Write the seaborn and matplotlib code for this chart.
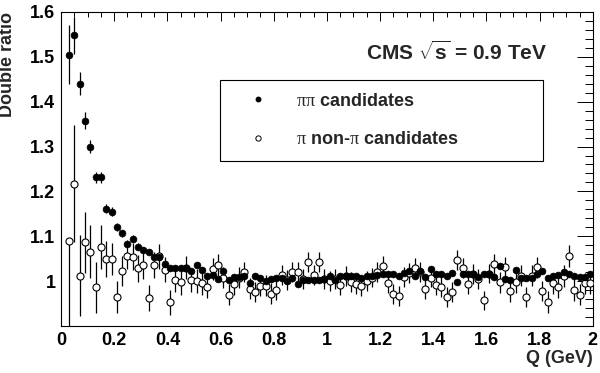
import numpy as np
import pandas as pd
import seaborn as sns
import matplotlib
matplotlib.use("Agg")
import matplotlib.pyplot as plt
from matplotlib.lines import Line2D
from matplotlib.ticker import MultipleLocator

# bin centres in Q (GeV)
q_gev = [
    0.03, 0.05, 0.07, 0.09, 0.11, 0.13, 0.15, 0.17, 0.19, 0.21,
    0.23, 0.25, 0.27, 0.29, 0.31, 0.33, 0.35, 0.37, 0.39, 0.41,
    0.43, 0.45, 0.47, 0.49, 0.51, 0.53, 0.55, 0.57, 0.59, 0.61,
    0.63, 0.65, 0.67, 0.69, 0.71, 0.73, 0.75, 0.77, 0.79, 0.81,
    0.83, 0.85, 0.87, 0.89, 0.91, 0.93, 0.95, 0.97, 0.99, 1.01,
    1.03, 1.05, 1.07, 1.09, 1.11, 1.13, 1.15, 1.17, 1.19, 1.21,
    1.23, 1.25, 1.27, 1.29, 1.31, 1.33, 1.35, 1.37, 1.39, 1.41,
    1.43, 1.45, 1.47, 1.49, 1.51, 1.53, 1.55, 1.57, 1.59, 1.61,
    1.63, 1.65, 1.67, 1.69, 1.71, 1.73, 1.75, 1.77, 1.79, 1.81,
    1.83, 1.85, 1.87, 1.89, 1.91, 1.93, 1.95, 1.97, 1.99,
]

# pi pi candidates (filled)
pipi_ratio = [
    1.505, 1.548, 1.440, 1.358, 1.300, 1.231, 1.231, 1.161, 1.155, 1.121,
    1.107, 1.083, 1.095, 1.077, 1.070, 1.065, 1.054, 1.054, 1.038, 1.029,
    1.029, 1.030, 1.030, 1.022, 1.037, 1.025, 1.012, 1.013, 1.004, 1.022,
    1.003, 1.010, 1.010, 1.012, 0.995, 1.011, 1.008, 1.001, 1.005, 1.006,
    1.006, 1.001, 1.006, 0.993, 1.002, 1.002, 1.002, 1.002, 1.005, 1.012,
    1.002, 1.011, 1.012, 1.012, 1.011, 1.008, 1.011, 1.012, 1.014, 1.016,
    1.016, 1.016, 1.012, 1.019, 1.023, 1.011, 1.023, 1.010, 1.027, 1.016,
    1.016, 1.011, 1.018, 0.999, 1.016, 1.016, 1.016, 1.010, 1.016, 1.017,
    1.010, 1.034, 1.005, 1.003, 1.025, 1.008, 1.008, 1.008, 1.016, 1.023,
    1.008, 1.012, 1.013, 1.020, 1.017, 1.012, 1.010, 1.010, 1.017,
]
pipi_err = [
    0.065, 0.041, 0.026, 0.019, 0.015, 0.013, 0.013, 0.010, 0.010, 0.009,
    0.008, 0.008, 0.008, 0.007, 0.007, 0.007, 0.006, 0.006, 0.006, 0.006,
    0.006, 0.006, 0.006, 0.006, 0.006, 0.006, 0.006, 0.006, 0.006, 0.006,
    0.006, 0.006, 0.006, 0.006, 0.006, 0.006, 0.006, 0.006, 0.006, 0.006,
    0.006, 0.006, 0.006, 0.006, 0.006, 0.006, 0.006, 0.006, 0.006, 0.006,
    0.006, 0.006, 0.006, 0.006, 0.006, 0.006, 0.006, 0.006, 0.006, 0.006,
    0.006, 0.006, 0.006, 0.006, 0.006, 0.006, 0.006, 0.006, 0.006, 0.006,
    0.006, 0.006, 0.006, 0.006, 0.006, 0.006, 0.006, 0.006, 0.006, 0.006,
    0.006, 0.006, 0.006, 0.006, 0.006, 0.006, 0.006, 0.006, 0.006, 0.006,
    0.006, 0.006, 0.006, 0.006, 0.006, 0.006, 0.006, 0.006, 0.006,
]

# pi non-pi candidates (open)
pinonpi_ratio = [
    1.090, 1.217, 1.012, 1.087, 1.066, 0.986, 1.076, 1.050, 1.050, 0.965,
    1.023, 1.057, 1.054, 1.029, 1.035, 0.963, 1.036, 1.055, 1.025, 0.953,
    1.002, 0.997, 1.030, 1.002, 1.000, 0.995, 0.987, 1.027, 1.035, 1.008,
    0.970, 0.993, 1.008, 1.020, 0.983, 0.976, 0.990, 0.990, 0.972, 0.981,
    1.013, 1.002, 1.021, 1.021, 1.004, 1.042, 1.013, 1.042, 1.004, 1.000,
    1.005, 0.991, 1.012, 0.998, 0.993, 0.989, 1.001, 1.008, 1.020, 1.033,
    0.996, 0.972, 0.967, 1.010, 1.018, 1.030, 1.020, 0.983, 1.008, 0.991,
    0.987, 0.965, 0.976, 1.047, 1.029, 0.993, 1.016, 1.005, 0.957, 1.017,
    1.038, 0.997, 1.031, 0.977, 0.997, 1.012, 0.965, 1.012, 1.031, 0.978,
    0.954, 0.995, 0.986, 1.011, 1.056, 0.980, 0.970, 0.995, 0.995,
]
pinonpi_err = [
    0.200, 0.130, 0.090, 0.068, 0.060, 0.056, 0.050, 0.040, 0.036, 0.035,
    0.034, 0.031, 0.030, 0.030, 0.030, 0.029, 0.029, 0.028, 0.028, 0.028,
    0.027, 0.027, 0.026, 0.026, 0.026, 0.025, 0.025, 0.025, 0.025, 0.024,
    0.024, 0.024, 0.023, 0.023, 0.023, 0.023, 0.023, 0.023, 0.023, 0.023,
    0.022, 0.022, 0.022, 0.022, 0.022, 0.022, 0.022, 0.022, 0.022, 0.022,
    0.022, 0.022, 0.022, 0.022, 0.022, 0.022, 0.022, 0.022, 0.022, 0.022,
    0.022, 0.022, 0.022, 0.022, 0.022, 0.022, 0.022, 0.022, 0.022, 0.022,
    0.022, 0.022, 0.022, 0.022, 0.022, 0.022, 0.022, 0.022, 0.022, 0.022,
    0.023, 0.023, 0.023, 0.023, 0.023, 0.023, 0.023, 0.023, 0.023, 0.023,
    0.024, 0.024, 0.024, 0.024, 0.024, 0.024, 0.024, 0.024, 0.024,
]
# first open point only shows its lower bar
pinonpi_err_up = [0.0] + pinonpi_err[1:]

x_ticks = [0, 0.2, 0.4, 0.6, 0.8, 1.0, 1.2, 1.4, 1.6, 1.8, 2.0]
x_ticklabels = ["0", "0.2", "0.4", "0.6", "0.8", "1", "1.2", "1.4", "1.6", "1.8", "2"]
y_ticks = [1.0, 1.1, 1.2, 1.3, 1.4, 1.5, 1.6]
y_ticklabels = ["1", "1.1", "1.2", "1.3", "1.4", "1.5", "1.6"]

df_pipi = pd.DataFrame({"Q": q_gev, "ratio": pipi_ratio})
df_other = pd.DataFrame({"Q": q_gev, "ratio": pinonpi_ratio})

sns.set_style("white")
plt.rcParams["font.family"] = ["Liberation Sans", "DejaVu Sans"]
plt.rcParams["mathtext.fontset"] = "custom"
plt.rcParams["mathtext.rm"] = "Liberation Sans"
plt.rcParams["mathtext.it"] = "Liberation Serif"
plt.rcParams["mathtext.bf"] = "Liberation Sans:bold"

fig, ax = plt.subplots(figsize=(6, 3.73), dpi=100)
plt.subplots_adjust(left=0.1017, right=0.988, top=0.968, bottom=0.126)

# open points first, filled ones on top
ax.errorbar(q_gev, pinonpi_ratio, yerr=[pinonpi_err, pinonpi_err_up], fmt="none",
            ecolor="black", elinewidth=0.9, capsize=0, zorder=2)
sns.scatterplot(data=df_other, x="Q", y="ratio", ax=ax, marker="o", s=26,
                facecolor="white", edgecolor="black", linewidth=0.8, zorder=3)
ax.errorbar(q_gev, pipi_ratio, yerr=pipi_err, fmt="none",
            ecolor="black", elinewidth=0.9, capsize=0, zorder=4)
sns.scatterplot(data=df_pipi, x="Q", y="ratio", ax=ax, marker="o", s=24,
                color="black", edgecolor="black", linewidth=0.5, zorder=5)

ax.set_xlim(0, 2)
ax.set_ylim(0.9, 1.6)
ax.set_xticks(x_ticks)
ax.set_xticklabels(x_ticklabels, fontsize=13, fontweight="bold")
ax.set_yticks(y_ticks)
ax.set_yticklabels(y_ticklabels, fontsize=13, fontweight="bold")
ax.xaxis.set_minor_locator(MultipleLocator(0.05))
ax.yaxis.set_minor_locator(MultipleLocator(0.02))
ax.tick_params(axis="both", which="both", direction="in", top=True, right=True,
               width=0.7, color="black", labelcolor="black")
ax.tick_params(axis="x", which="major", length=6.8, pad=4)
ax.tick_params(axis="x", which="minor", length=3.4)
ax.tick_params(axis="y", which="major", length=11.5, pad=4)
ax.tick_params(axis="y", which="minor", length=5.8)
for sp in ax.spines.values():
    sp.set_color("black")
    sp.set_linewidth(0.8)

ax.set_xlabel("Q (GeV)", fontsize=13, fontweight="bold", ha="right", va="center")
ax.xaxis.set_label_coords(1.0, -0.104)
ax.set_ylabel("Double ratio", fontsize=13, fontweight="bold")
ax.yaxis.label.set(ha="right", va="center", rotation_mode="anchor")
ax.yaxis.set_label_coords(-0.1, 1.0)

ax.text(0.9135, 0.873, r"CMS $\sqrt{\mathbf{s}}$ = 0.9 TeV", transform=ax.transAxes,
        ha="right", va="center", fontsize=15, fontweight="bold")

handles = [
    Line2D([], [], linestyle="none", marker="o", markersize=3.2,
           markerfacecolor="black", markeredgecolor="black"),
    Line2D([], [], linestyle="none", marker="o", markersize=3.8,
           markerfacecolor="white", markeredgecolor="black", markeredgewidth=0.7),
]
labels = [r"$\pi\pi$ candidates", r"$\pi$ non-$\pi$ candidates"]
leg = ax.legend(handles, labels, loc="lower left",
                bbox_to_anchor=(0.299, 0.525, 0.607, 0.265), mode="expand",
                prop={"size": 13, "weight": "bold"}, frameon=True, fancybox=False,
                borderpad=0.7, labelspacing=1.2, handlelength=2.8, handletextpad=0.7,
                borderaxespad=0)
leg.get_frame().set_edgecolor("black")
leg.get_frame().set_linewidth(0.8)
leg.get_frame().set_alpha(1)

fig.savefig("out.png", dpi=100)
